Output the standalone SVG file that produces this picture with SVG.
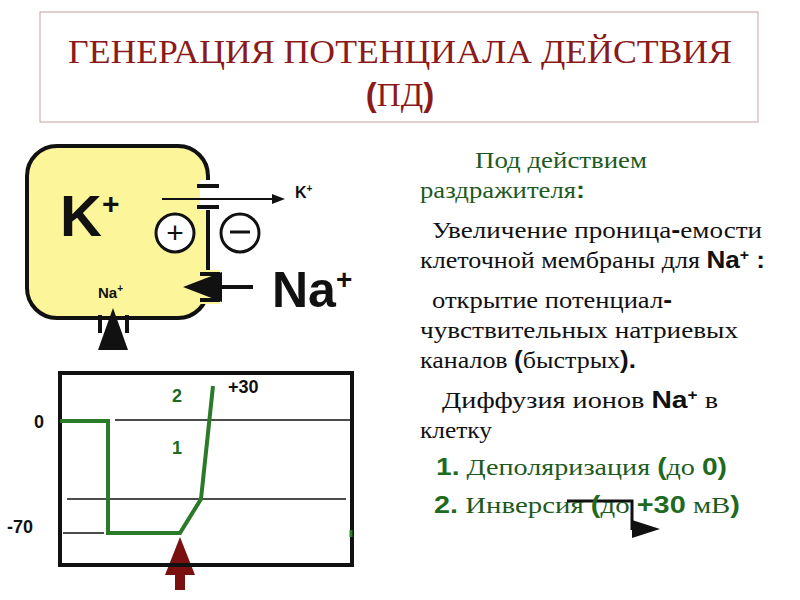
<svg xmlns="http://www.w3.org/2000/svg" width="800" height="600" viewBox="0 0 800 600">
<style>
.t{font-family:"Liberation Serif","Times New Roman","DejaVu Serif",serif;font-size:23px;fill:#111}
.g{fill:#1e5a1e}
.s{font-family:"Liberation Sans",Arial,sans-serif;font-weight:bold}
.gb{fill:#1e6a1e}
.h{font-family:"Liberation Serif","Times New Roman","DejaVu Serif",serif;font-size:33px;fill:#8b1a1a}
</style>
<rect width="800" height="600" fill="#fff"/>
<g id="title">
<rect x="40" y="12" width="718" height="110" fill="#fff" stroke="#c8a0a0" stroke-width="1"/>
<text x="400" y="63" text-anchor="middle" class="h" textLength="664" lengthAdjust="spacingAndGlyphs">ГЕНЕРАЦИЯ ПОТЕНЦИАЛА ДЕЙСТВИЯ</text>
<text x="400" y="106" text-anchor="middle" class="h"><tspan class="s">(</tspan>ПД<tspan class="s">)</tspan></text>
</g>
<g id="cell">
<rect x="27" y="146" width="181" height="172" rx="30" fill="#fdf59a" stroke="#111" stroke-width="4"/>
<rect x="200" y="180" width="20" height="30" fill="#fff"/>
<rect x="200" y="270" width="20" height="34" fill="#fdf59a"/>
<line x1="197" y1="186" x2="219" y2="186" stroke="#111" stroke-width="4"/>
<line x1="197" y1="207" x2="219" y2="207" stroke="#111" stroke-width="4"/>
<line x1="200" y1="274" x2="220" y2="274" stroke="#111" stroke-width="4"/>
<line x1="200" y1="300" x2="220" y2="300" stroke="#111" stroke-width="4"/>
<text x="60" y="236" class="s" font-size="58" fill="#111">K<tspan font-size="30" dy="-22">+</tspan></text>
<circle cx="175" cy="233" r="19" fill="#fff" stroke="#111" stroke-width="3"/>
<text x="175" y="243" text-anchor="middle" font-family="Liberation Sans,sans-serif" font-size="30" fill="#111">+</text>
<circle cx="240" cy="233" r="19" fill="#fff" stroke="#111" stroke-width="3"/>
<line x1="230" y1="232" x2="250" y2="232" stroke="#111" stroke-width="3"/>
<text x="295" y="198" class="s" font-size="16" fill="#111">K<tspan font-size="10" dy="-6">+</tspan></text>
<text x="272" y="307" class="s" font-size="50" fill="#111">Na<tspan font-size="28" dy="-18">+</tspan></text>
<text x="98" y="298" class="s" font-size="15" fill="#111">Na<tspan font-size="10" dy="-6">+</tspan></text>
<rect x="96" y="320" width="24" height="16" fill="#fff"/>
<line x1="100" y1="315" x2="100" y2="333" stroke="#111" stroke-width="4"/>
<line x1="127" y1="315" x2="127" y2="333" stroke="#111" stroke-width="4"/>
</g>
<g id="connectors">
<line x1="162" y1="199" x2="275" y2="199" stroke="#111" stroke-width="2"/>
<polygon points="285,199 272,194 272,204" fill="#111"/>
<line x1="253" y1="287" x2="215" y2="287" stroke="#111" stroke-width="4"/>
<polygon points="183,287 222,272 222,302" fill="#111"/>
<polygon points="113,308 98,350 128,350" fill="#111"/>
<polygon points="180,537 165,575 195,575" fill="#7a1010"/>
<rect x="175" y="572" width="10" height="18" fill="#7a1010"/>
<polyline points="567,501 632,501 632,530" fill="none" stroke="#111" stroke-width="3"/>
<polygon points="632,520 660,529 632,538" fill="#111"/>
</g>
<g id="graph">
<rect x="60" y="373" width="292" height="192" fill="none" stroke="#111" stroke-width="4"/>
<line x1="115" y1="420" x2="352" y2="420" stroke="#111" stroke-width="1.5"/>
<line x1="67" y1="499" x2="346" y2="499" stroke="#111" stroke-width="1.5"/>
<line x1="63" y1="533" x2="104" y2="533" stroke="#111" stroke-width="1.5"/>
<polyline points="60,421 108,421 108,533 180,533 201,499 213,386" fill="none" stroke="#2a7a2a" stroke-width="4"/>
<line x1="351" y1="530" x2="351" y2="537" stroke="#2a7a2a" stroke-width="3"/>
<text x="34" y="428" class="s" font-size="18" fill="#111">0</text>
<text x="7" y="533" class="s" font-size="18" fill="#111">-70</text>
<text x="172" y="402" class="s gb" font-size="18">2</text>
<text x="172" y="454" class="s gb" font-size="18">1</text>
<text x="228" y="393" class="s" font-size="18" fill="#111">+30</text>
</g>
<g id="text">
<text x="475" y="168" class="t g" textLength="172" lengthAdjust="spacingAndGlyphs">Под действием</text>
<text x="420" y="198" class="t g" textLength="165" lengthAdjust="spacingAndGlyphs">раздражителя<tspan class="s">:</tspan></text>
<text x="432" y="238" class="t" textLength="330" lengthAdjust="spacingAndGlyphs">Увеличение проница<tspan class="s">-</tspan>емости</text>
<text x="420" y="268" class="t" textLength="345" lengthAdjust="spacingAndGlyphs">клеточной мембраны для <tspan class="s">Na<tspan font-size="14" dy="-8">+</tspan><tspan dy="8"> :</tspan></tspan></text>
<text x="432" y="308" class="t" textLength="240" lengthAdjust="spacingAndGlyphs">открытие потенциал<tspan class="s">-</tspan></text>
<text x="420" y="338" class="t" textLength="318" lengthAdjust="spacingAndGlyphs">чувствительных натриевых</text>
<text x="420" y="368" class="t" textLength="216" lengthAdjust="spacingAndGlyphs">каналов <tspan class="s">(</tspan>быстрых<tspan class="s">).</tspan></text>
<text x="442" y="408" class="t" textLength="276" lengthAdjust="spacingAndGlyphs">Диффузия ионов <tspan class="s">Na<tspan font-size="14" dy="-8">+</tspan></tspan><tspan dy="8"> в</tspan></text>
<text x="420" y="438" class="t" textLength="72" lengthAdjust="spacingAndGlyphs">клетку</text>
<text x="436" y="475" class="t g" textLength="291" lengthAdjust="spacingAndGlyphs"><tspan class="s gb">1.</tspan> Деполяризация <tspan class="s gb">(</tspan>до <tspan class="s gb">0)</tspan></text>
<text x="434" y="513" class="t g" textLength="306" lengthAdjust="spacingAndGlyphs"><tspan class="s gb">2.</tspan> Инверсия <tspan class="s gb">(</tspan>до <tspan class="s gb">+30</tspan> мВ<tspan class="s gb">)</tspan></text>
</g>
</svg>
